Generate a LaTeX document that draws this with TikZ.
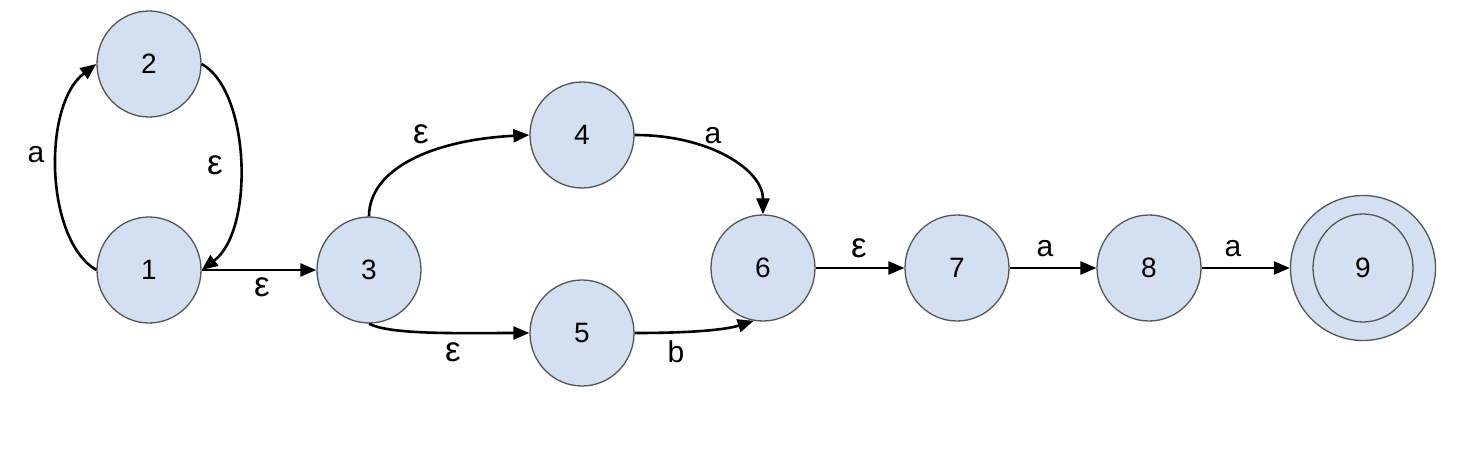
\documentclass[tikz,border=0pt]{standalone}
\usepackage{fontspec}
\setmainfont{Liberation Sans}
\usetikzlibrary{arrows.meta,shapes.geometric}
\definecolor{stfill}{HTML}{D3E0F1}
\definecolor{stline}{HTML}{555555}
\tikzset{
  state/.style={ellipse,draw=stline,fill=stfill,line width=1.3pt,minimum width=104pt,minimum height=106pt,inner sep=0pt,font=\fontsize{28}{30}\selectfont},
  edge/.style={line width=2.6pt,-{Triangle[length=16pt,width=13pt]}},
  lbl/.style={font=\fontsize{30}{32}\selectfont,inner sep=0pt},
  eps/.style={font=\fontsize{35}{38}\selectfont,inner sep=0pt}
}
\begin{document}
\begin{tikzpicture}[x=1pt,y=-1pt]
\useasboundingbox (0,0) rectangle (1460,450);
\node[state] (n1) at (149,270) {1};
\node[state] (n2) at (149,64) {2};
\node[state] (n3) at (369,270) {3};
\node[state] (n4) at (582,135) {4};
\node[state] (n5) at (582,333) {5};
\node[state] (n6) at (763,268) {6};
\node[state] (n7) at (957,268) {7};
\node[state] (n8) at (1149,268) {8};
\node[circle,draw=stline,fill=stfill,line width=1.3pt,minimum size=145pt,inner sep=0pt] (n9) at (1363,268) {};
\node[state,minimum width=100pt,minimum height=108pt] (n9i) at (1363,268) {9};

\draw[edge] (n1.west) .. controls (45,240) and (42,105) .. (n2.west);
\draw[edge] (n2.east) .. controls (250,90) and (255,230) .. (n1.east);
\draw[edge] (n1.east) -- (n3.west);
\draw[edge] (n3.north) .. controls (369,170) and (430,140) .. (n4.west);
\draw[edge] (n3.south) .. controls (390,335) and (460,333) .. (n5.west);
\draw[edge] (n4.east) .. controls (710,135) and (763,170) .. (n6.north);
\draw[edge] (n5.east) .. controls (690,333) and (725,330) .. (n6.-100);
\draw[edge] (n6.east) -- (n7.west);
\draw[edge] (n7.east) -- (n8.west);
\draw[edge] (n8.east) -- (n9.west);

\node[lbl] (l12) at (36,155) {a};
\node[eps] (l21) at (215,165) {ε};
\node[eps] (l13) at (262,287) {ε};
\node[eps] (l34) at (421,134) {ε};
\node[eps] (l35) at (453,352) {ε};
\node[lbl] (l46) at (713,136) {a};
\node[lbl] (l56) at (676,352) {b};
\node[eps] (l67) at (859,248) {ε};
\node[lbl] (l78) at (1045,249) {a};
\node[lbl] (l89) at (1233,249) {a};
\end{tikzpicture}
\end{document}
